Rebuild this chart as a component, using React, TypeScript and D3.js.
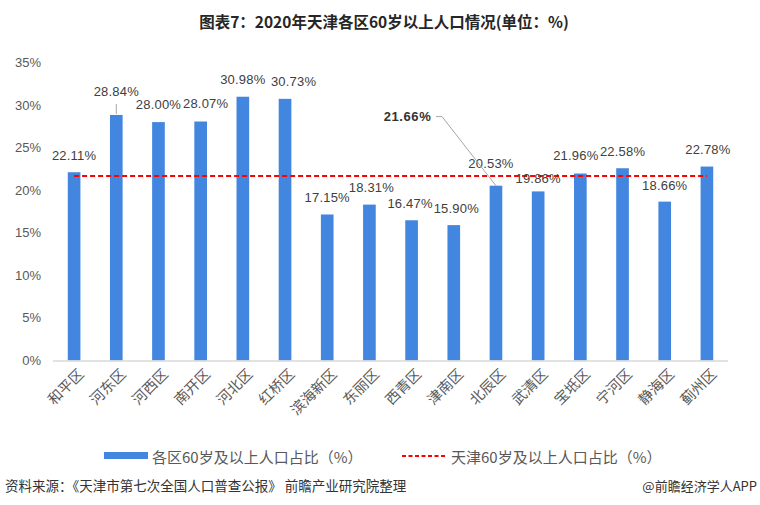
import React from "react";
import * as d3 from "d3";

const categories = ["和平区", "河东区", "河西区", "南开区", "河北区", "红桥区", "滨海新区", "东丽区", "西青区", "津南区", "北辰区", "武清区", "宝坻区", "宁河区", "静海区", "蓟州区"];
const values = [22.11, 28.84, 28.0, 28.07, 30.98, 30.73, 17.15, 18.31, 16.47, 15.9, 20.53, 19.86, 21.96, 22.58, 18.66, 22.78];
const cityAverage = 21.66;
const yTicks = [0, 5, 10, 15, 20, 25, 30, 35];
const seriesName = "各区60岁及以上人口占比（%）";
const lineName = "天津60岁及以上人口占比（%）";
const title = "图表7：2020年天津各区60岁以上人口情况(单位：%)";
const source = "资料来源：《天津市第七次全国人口普查公报》 前瞻产业研究院整理";
const brand = "@前瞻经济学人APP";

// label nudges [dx, dy] relative to the bar top (layout only)
const labelNudge: [number, number][] = [
  [0, -17], [0, -23], [0, -18], [5, -18], [0, -17], [8.5, -17], [0, -17], [2, -17],
  [-1.5, -17], [2.5, -17], [-5, -22], [0, -13], [-4.5, -18], [0, -17], [0, -16], [1, -17],
];

const W = 760;
const H = 505;
const left = 53;
const right = 728;
const top = 62.5;
const bottom = 360.5;

export default function App() {
  const x = d3.scaleBand<string>().domain(categories).range([left, right]).paddingInner(0).paddingOuter(0);
  const y = d3.scaleLinear().domain([0, 35]).range([bottom, top]);
  const bw = x.bandwidth() * 0.3;
  const cx = (c: string) => (x(c) as number) + x.bandwidth() / 2;
  const avgY = y(cityAverage);
  const fontAxis = "'Liberation Sans', Arial, 'Noto Sans CJK SC', sans-serif";
  const fontCJK = "'Noto Sans CJK SC', 'Liberation Sans', sans-serif";
  const target = categories[10];

  return (
    <svg width={W} height={H} style={{ position: "absolute", left: 0, top: 0, background: "#fff" }}>
      <rect x={0} y={0} width={W} height={H} fill="#fff" />
      <text x={384} y={21} textAnchor="middle" dominantBaseline="central" fontFamily={fontCJK} fontWeight="bold" fontSize={15.5} fill="#262626">
        {title}
      </text>

      {yTicks.map((t) => (
        <text key={t} x={41} y={y(t)} textAnchor="end" dominantBaseline="central" fontFamily={fontAxis} fontSize={13} fill="#595959">
          {t}%
        </text>
      ))}

      {categories.map((c, i) => (
        <rect key={c} x={cx(c) - bw / 2} y={y(values[i])} width={bw} height={bottom - y(values[i])} fill="#4286E0" />
      ))}

      <line x1={left} x2={right} y1={bottom + 0.5} y2={bottom + 0.5} stroke="#d9d9d9" strokeWidth={1.5} />

      <line x1={cx(categories[0])} x2={cx(categories[categories.length - 1])} y1={avgY} y2={avgY} stroke="#FF0000" strokeWidth={2} strokeDasharray="5,3" />

      {/* leader for 28.84% */}
      <line x1={cx(categories[1])} x2={cx(categories[1])} y1={y(values[1]) - 11} y2={y(values[1]) - 1} stroke="#a6a6a6" strokeWidth={1} />

      {categories.map((c, i) => (
        <text key={c} x={cx(c) + labelNudge[i][0]} y={y(values[i]) + labelNudge[i][1]} textAnchor="middle" dominantBaseline="central" fontFamily={fontAxis} fontSize={13} letterSpacing={0.2} fill="#404040">
          {values[i].toFixed(2)}%
        </text>
      ))}

      {/* average annotation */}
      <text x={407.5} y={avgY - 59.5} textAnchor="middle" dominantBaseline="central" fontFamily={fontAxis} fontWeight="bold" fontSize={13} letterSpacing={0.6} fill="#333">
        {cityAverage.toFixed(2)}%
      </text>
      <polyline
        points={`436,${avgY - 59.5} 442,${avgY - 59.5} ${cx(target)},${y(values[10])}`}
        fill="none"
        stroke="#a6a6a6"
        strokeWidth={1}
      />

      {categories.map((c) => (
        <text
          key={c}
          transform={`translate(${cx(c) + 6},${bottom + 10}) rotate(-45)`}
          textAnchor="end"
          dominantBaseline="central"
          fontFamily={fontCJK}
          fontSize={14.5}
          fill="#595959"
        >
          {c}
        </text>
      ))}

      {/* legend */}
      <rect x={104} y={452} width={44} height={7} fill="#4286E0" />
      <text x={152} y={456} dominantBaseline="central" fontFamily={fontCJK} fontSize={15} fill="#595959">
        {seriesName}
      </text>
      <line x1={402} x2={447} y1={456} y2={456} stroke="#FF0000" strokeWidth={2} strokeDasharray="4,2.5" />
      <text x={451} y={456} dominantBaseline="central" fontFamily={fontCJK} fontSize={15} fill="#595959">
        {lineName}
      </text>

      <text x={5} y={485} dominantBaseline="central" fontFamily={fontCJK} fontSize={13.5} fill="#333">
        {source}
      </text>
      <text x={757} y={485} textAnchor="end" dominantBaseline="central" fontFamily={fontCJK} fontSize={13} fill="#333">
        {brand}
      </text>
    </svg>
  );
}
